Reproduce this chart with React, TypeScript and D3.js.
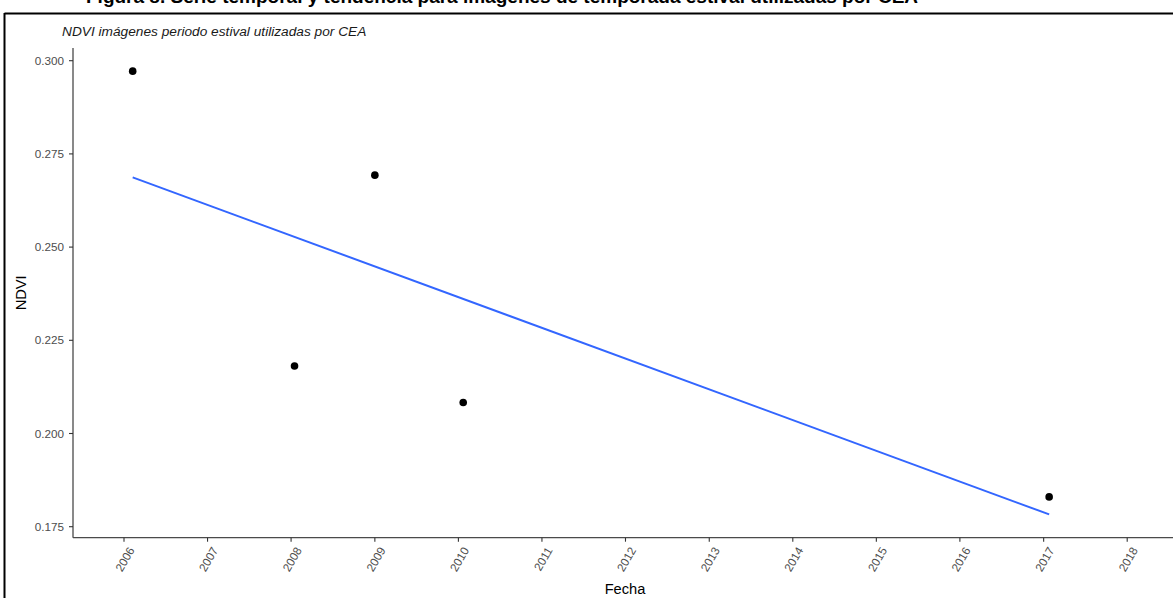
import React from 'react';
import * as d3 from 'd3';

// Fechas de las imágenes (periodo estival) y su NDVI
const fechas = ['2006-02-08', '2008-01-16', '2009-01-01', '2010-01-22', '2017-01-25'];
const ndvi = [0.2972, 0.2181, 0.2693, 0.2083, 0.183];

// Tendencia lineal (inicio y fin)
const trendFechas = ['2006-02-08', '2017-01-25'];
const trendNdvi = [0.2687, 0.1783];

const yTicks = [0.175, 0.2, 0.225, 0.25, 0.275, 0.3];
const xTickYears = [2006, 2007, 2008, 2009, 2010, 2011, 2012, 2013, 2014, 2015, 2016, 2017, 2018];

const titulo = 'Figura 8. Serie temporal y tendencia para imágenes de temporada estival utilizadas por CEA';
const subtitulo = 'NDVI imágenes periodo estival utilizadas por CEA';

const W = 1173;
const H = 598;

export default function App() {
  const parse = d3.timeParse('%Y-%m-%d');
  const points = fechas.map((f, i) => ({ date: parse(f) as Date, v: ndvi[i] }));
  const trend = trendFechas.map((f, i) => ({ date: parse(f) as Date, v: trendNdvi[i] }));

  const panel = { left: 73, right: 1177, top: 48, bottom: 537.7 };

  const x = d3.scaleTime()
    .domain([new Date(2006, 0, 1), new Date(2018, 0, 1)])
    .range([124, 124 + 12 * 83.6]);

  const y = d3.scaleLinear()
    .domain([0.175, 0.3])
    .range([526.7, 60.7]);

  const line = d3.line<{ date: Date; v: number }>()
    .x(d => x(d.date))
    .y(d => y(d.v));

  const font = '"Liberation Sans", Arial, sans-serif';
  const tickColor = '#4D4D4D';

  return (
    <div style={{ position: 'absolute', left: 0, top: 0 }}>
      <svg width={W} height={H} style={{ display: 'block', background: '#fff' }} fontFamily={font}>
        {/* título cortado */}
        <text x={86} y={3} fontSize={19} fontWeight="bold" fill="#000">{titulo}</text>

        {/* marco */}
        <line x1={4.5} x2={W} y1={13.5} y2={13.5} stroke="#000" strokeWidth={2} />
        <line x1={4.5} x2={4.5} y1={13} y2={H} stroke="#000" strokeWidth={2} />

        {/* subtítulo */}
        <text x={62} y={35.5} fontSize={13.7} fontStyle="italic" fill="#1a1a1a">{subtitulo}</text>

        {/* ejes */}
        <line x1={panel.left} x2={panel.left} y1={panel.top} y2={panel.bottom} stroke="#4a4a4a" strokeWidth={1.3} />
        <line x1={panel.left} x2={W} y1={panel.bottom} y2={panel.bottom} stroke="#4a4a4a" strokeWidth={1.3} />

        {yTicks.map(t => (
          <g key={t}>
            <line x1={panel.left - 4} x2={panel.left} y1={y(t)} y2={y(t)} stroke="#333" strokeWidth={1.1} />
            <text x={64} y={y(t)} dy="0.35em" textAnchor="end" fontSize={11.7} fill={tickColor}>
              {d3.format('.3f')(t)}
            </text>
          </g>
        ))}

        {xTickYears.map(yr => {
          const px = x(new Date(yr, 0, 1));
          return (
            <g key={yr}>
              <line x1={px} x2={px} y1={panel.bottom} y2={panel.bottom + 4} stroke="#333" strokeWidth={1.1} />
              <text
                transform={`translate(${px + 7.5},${548}) rotate(-60)`}
                dy="0.35em"
                textAnchor="end"
                fontSize={11.7}
                fill={tickColor}
              >
                {yr}
              </text>
            </g>
          );
        })}

        {/* títulos de ejes */}
        <text transform={`translate(26,${(panel.top + panel.bottom) / 2}) rotate(-90)`} textAnchor="middle" fontSize={14.67} fill="#000">NDVI</text>
        <text x={(panel.left + panel.right) / 2} y={594} textAnchor="middle" fontSize={14.67} fill="#000">Fecha</text>

        {/* tendencia */}
        <path d={line(trend) || ''} fill="none" stroke="#3366FF" strokeWidth={2} />

        {/* puntos */}
        {points.map((p, i) => (
          <circle key={i} cx={x(p.date)} cy={y(p.v)} r={3.8} fill="#000" />
        ))}
      </svg>
    </div>
  );
}
